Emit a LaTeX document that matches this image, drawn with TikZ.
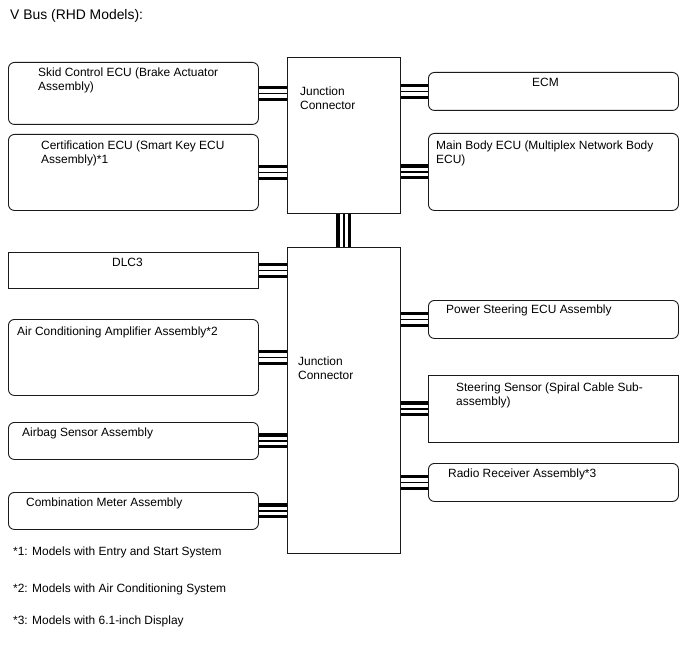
\documentclass[tikz,border=0pt]{standalone}
\usepackage{fontspec}
\setmainfont{Liberation Sans}
\usepackage{tikz}
\usetikzlibrary{backgrounds,calc,positioning}
\definecolor{BoxLine}{HTML}{1A1A1A}
\definecolor{BusLine}{HTML}{000000}
\tikzset{
  ecu/.style={draw=BoxLine,line width=0.9pt,rounded corners=6pt,anchor=north west,inner sep=0pt},
  plainbox/.style={ecu,sharp corners},
  junction/.style={plainbox},
  bus/.style={draw=BusLine,line width=1.2pt,preaction={draw=BusLine,line width=15pt},preaction={draw=white,line width=8.5pt}},
  boxtext/.style={anchor=north west,inner sep=0pt,align=left,font=\fontsize{11.95}{14}\selectfont},
  fnote/.style={boxtext},
  heading/.style={anchor=base west,inner sep=0pt,font=\fontsize{13.9}{16}\selectfont}
}

\begin{document}
\begin{tikzpicture}[x=1pt,y=-1pt]
  \useasboundingbox (0,0) rectangle (688,658);
  \node[heading] (title) at (10,20) {V Bus (RHD Models):};

  % junction connectors
  \node[junction,minimum width=113pt,minimum height=156pt] (jc1) at (287,57) {};
  \node[junction,minimum width=113pt,minimum height=306pt] (jc2) at (287,247) {};
  \node[boxtext] at (300,87) {Junction\\Connector};
  \node[boxtext] at (298,357) {Junction\\Connector};

  % left side
  \node[ecu,minimum width=250pt,minimum height=62pt] (skid) at (8,62) {};
  \node[ecu,minimum width=250pt,minimum height=76pt] (cert) at (8,134) {};
  \node[plainbox,minimum width=250pt,minimum height=36pt] (dlc) at (8,252) {};
  \node[ecu,minimum width=250pt,minimum height=76pt] (aircon) at (8,319) {};
  \node[ecu,minimum width=250pt,minimum height=37pt] (airbag) at (8,422) {};
  \node[ecu,minimum width=250pt,minimum height=37pt] (meter) at (8,492) {};
  \node[boxtext] at (38,68) {Skid Control ECU (Brake Actuator\\Assembly)};
  \node[boxtext] at (41,141) {Certification ECU (Smart Key ECU\\Assembly)*1};
  \node[boxtext] at (112,258) {DLC3};
  \node[boxtext] at (17,327) {Air Conditioning Amplifier Assembly*2};
  \node[boxtext] at (22,428) {Airbag Sensor Assembly};
  \node[boxtext] at (26,498) {Combination Meter Assembly};

  % right side
  \node[ecu,minimum width=250pt,minimum height=38pt] (ecm) at (428,72) {};
  \node[ecu,minimum width=250pt,minimum height=77pt] (mainbody) at (428,133) {};
  \node[ecu,minimum width=250pt,minimum height=38pt] (eps) at (428,300) {};
  \node[plainbox,minimum width=250pt,minimum height=67pt] (steer) at (428,375) {};
  \node[ecu,minimum width=250pt,minimum height=38pt] (radio) at (428,463) {};
  \node[boxtext] at (532,78) {ECM};
  \node[boxtext] at (436,141) {Main Body ECU (Multiplex Network Body\\ECU)};
  \node[boxtext] at (446,305) {Power Steering ECU Assembly};
  \node[boxtext] at (456,383) {Steering Sensor (Spiral Cable Sub-\\assembly)};
  \node[boxtext] at (448,469) {Radio Receiver Assembly*3};

  % bus lines
  \begin{scope}[on background layer]
    \draw[bus] (jc1.south) -- (jc2.north);
    \foreach \ecu/\jc in {skid/jc1,cert/jc1,dlc/jc2,aircon/jc2,airbag/jc2,meter/jc2}
      \draw[bus] (\ecu.east) -- (\ecu.east -| \jc.west);
    \foreach \ecu/\jc in {ecm/jc1,mainbody/jc1,eps/jc2,steer/jc2,radio/jc2}
      \draw[bus] (\ecu.west) -- (\ecu.west -| \jc.east);
  \end{scope}

  \node[fnote] (fn1) at (13,547) {*1: Models with Entry and Start System};
  \node[fnote] (fn2) at (13,584) {*2: Models with Air Conditioning System};
  \node[fnote] (fn3) at (13,616) {*3: Models with 6.1-inch Display};
\end{tikzpicture}
\end{document}
